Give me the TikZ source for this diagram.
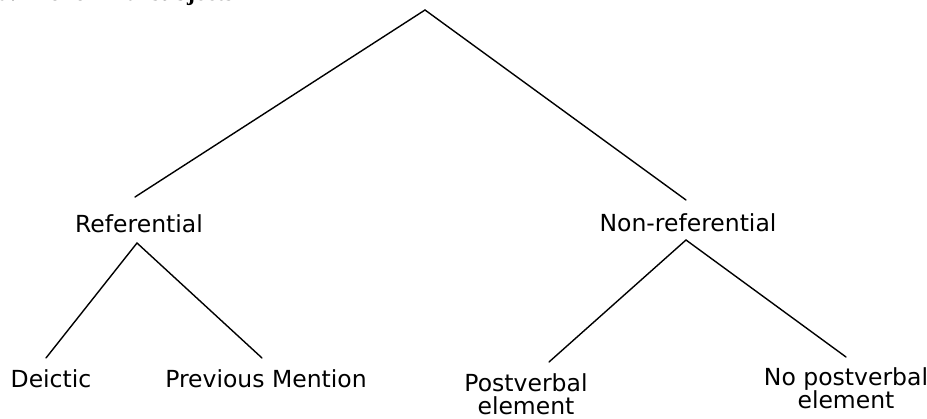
\documentclass[tikz,border=0pt]{standalone}
\usepackage{fontspec}
\newfontfamily\labfont{DejaVu Sans}
\newfontfamily\titlefont{Liberation Serif}
\begin{document}
\begin{tikzpicture}[x=1pt,y=-1pt,
  branch/.style={line width=1.4pt,line cap=round},
  lab/.style={font=\labfont\fontsize{23.5}{23}\selectfont,inner sep=0pt,anchor=base},
  lab2/.style={lab,align=center}]
\useasboundingbox (0,0) rectangle (927,419);
\clip (0,0) rectangle (927,419);
\node[inner sep=0pt,anchor=base west,font=\titlefont\bfseries\fontsize{24}{26}\selectfont] (title) at (-2,1) {a. Pronominal subjects};
% nodes
\coordinate (top) at (425,10);
\node[lab] (ref) at (139,233) {Referential};
\node[lab] (nonref) at (688,232) {Non-referential};
\node[lab] (deic) at (51,388) {Deictic};
\node[lab] (prev) at (266,388) {Previous Mention};
\node[lab2] (post) at (526,415) {Postverbal\\element};
\node[lab2] (nopost) at (846,409) {No postverbal\\element};
% attachment points
\coordinate (refin) at (135,197);
\coordinate (refout) at (137,243);
\coordinate (nonin) at (686,200);
\coordinate (nonout) at (686,240);
\coordinate (deicin) at (46,358);
\coordinate (previn) at (262,358);
\coordinate (postin) at (549,362);
\coordinate (nopostin) at (846,357);
% connectors
\draw[branch] (refin) -- (top) -- (nonin);
\draw[branch] (deicin) -- (refout) -- (previn);
\draw[branch] (postin) -- (nonout) -- (nopostin);
\end{tikzpicture}
\end{document}
